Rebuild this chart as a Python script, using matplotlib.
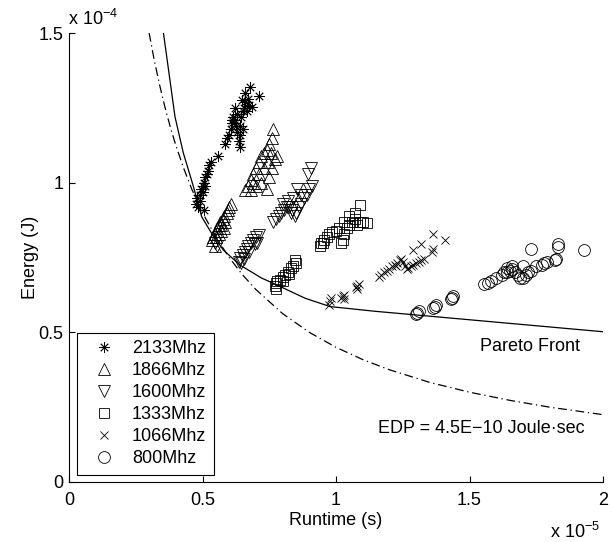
import matplotlib
matplotlib.use("Agg")
import matplotlib.pyplot as plt
from matplotlib.lines import Line2D

plt.rcParams['font.family'] = ['Liberation Sans', 'DejaVu Sans']
plt.rcParams['mathtext.default'] = 'regular'

# Runtime in units of 1e-5 s, energy in units of 1e-4 J
rt_2133 = [0.475, 0.48, 0.485, 0.49, 0.495, 0.50, 0.505, 0.51, 0.515, 0.52, 0.525, 0.53, 0.49, 0.50, 0.51,
           0.507, 0.557, 0.585, 0.59, 0.60, 0.605, 0.61, 0.615, 0.62, 0.625, 0.63, 0.635, 0.64, 0.64, 0.645,
           0.65, 0.655, 0.66, 0.665, 0.67, 0.675, 0.66, 0.678, 0.713, 0.62, 0.63, 0.65, 0.64, 0.609, 0.647, 0.684]
en_2133 = [0.93, 0.95, 0.92, 0.96, 0.98, 0.99, 1.0, 1.02, 1.03, 1.04, 1.06, 1.07, 0.94, 0.97, 0.99,
           0.91, 1.09, 1.13, 1.15, 1.16, 1.18, 1.20, 1.22, 1.21, 1.19, 1.17, 1.14, 1.16, 1.19, 1.22,
           1.24, 1.25, 1.27, 1.24, 1.28, 1.26, 1.30, 1.32, 1.29, 1.25, 1.23, 1.18, 1.12, 1.21, 1.276, 1.254]

rt_1866 = [0.535, 0.54, 0.545, 0.55, 0.555, 0.56, 0.565, 0.57, 0.575, 0.58, 0.585, 0.59, 0.595, 0.60, 0.605,
           0.56, 0.57, 0.55, 0.545, 0.58,
           0.66, 0.67, 0.68, 0.69, 0.70, 0.71, 0.72, 0.73, 0.74, 0.75, 0.76, 0.765, 0.68, 0.70, 0.72, 0.74,
           0.75, 0.76, 0.77, 0.78, 0.71, 0.73, 0.745, 0.69, 0.755]
en_1866 = [0.81, 0.82, 0.83, 0.84, 0.85, 0.86, 0.87, 0.86, 0.88, 0.89, 0.87, 0.90, 0.91, 0.92, 0.93,
           0.83, 0.84, 0.82, 0.79, 0.85,
           0.975, 0.99, 1.01, 1.03, 1.05, 1.07, 1.09, 1.10, 1.11, 1.13, 1.15, 1.18, 0.975, 0.99, 1.0, 0.98,
           1.02, 1.05, 1.08, 1.09, 1.03, 1.05, 1.07, 1.0, 1.10]

rt_1600 = [0.635, 0.64, 0.65, 0.66, 0.665, 0.67, 0.68, 0.69, 0.70, 0.71, 0.705, 0.695, 0.675, 0.655, 0.645,
           0.545, 0.555,
           0.765, 0.775, 0.785, 0.795, 0.805, 0.815, 0.825, 0.835, 0.845, 0.85, 0.86, 0.87, 0.88, 0.89, 0.90,
           0.91, 0.82, 0.84, 0.855, 0.87, 0.895, 0.905, 0.80, 0.83]
en_1600 = [0.735, 0.75, 0.76, 0.77, 0.78, 0.79, 0.80, 0.81, 0.82, 0.825, 0.80, 0.795, 0.77, 0.745, 0.73,
           0.80, 0.79,
           0.87, 0.88, 0.89, 0.90, 0.91, 0.92, 0.92, 0.91, 0.89, 0.90, 0.92, 0.93, 0.95, 0.96, 0.98,
           0.99, 0.94, 0.95, 0.98, 0.96, 1.03, 1.05, 0.93, 0.90]

rt_1333 = [0.77, 0.775, 0.78, 0.79, 0.80, 0.81, 0.82, 0.83, 0.84, 0.85, 0.775, 0.80, 0.825, 0.845,
           0.94, 0.95, 0.955, 0.965, 0.975, 0.985, 1.0, 1.02, 1.025, 1.03, 1.04, 1.05, 1.06, 1.07, 1.08,
           1.09, 1.10, 1.115, 1.03, 1.05, 1.07, 1.09, 1.01, 0.945]
en_1333 = [0.655, 0.665, 0.67, 0.675, 0.685, 0.69, 0.70, 0.715, 0.72, 0.73, 0.645, 0.67, 0.695, 0.74,
           0.79, 0.80, 0.81, 0.82, 0.83, 0.835, 0.84, 0.80, 0.81, 0.83, 0.85, 0.86, 0.87, 0.88, 0.86,
           0.87, 0.87, 0.865, 0.87, 0.89, 0.90, 0.925, 0.85, 0.80]

rt_1066 = [0.975, 0.978, 0.98, 1.02, 1.025, 1.03, 1.03, 1.075, 1.08, 1.085, 1.08,
           1.16, 1.17, 1.18, 1.19, 1.20, 1.21, 1.22, 1.23, 1.24, 1.25, 1.26, 1.265, 1.27, 1.28, 1.29, 1.30,
           1.31, 1.32, 1.33, 1.36, 1.365, 1.29, 1.32, 1.365, 1.41, 1.225, 1.245]
en_1066 = [0.59, 0.605, 0.615, 0.615, 0.62, 0.625, 0.61, 0.65, 0.655, 0.66, 0.645,
           0.685, 0.69, 0.70, 0.705, 0.71, 0.72, 0.725, 0.73, 0.74, 0.735, 0.72, 0.71, 0.715, 0.72, 0.725, 0.73,
           0.735, 0.74, 0.745, 0.77, 0.78, 0.775, 0.795, 0.83, 0.81, 0.72, 0.745]

rt_800 = [1.30, 1.305, 1.31, 1.365, 1.37, 1.375, 1.43, 1.435, 1.44,
          1.555, 1.57, 1.58, 1.60, 1.62, 1.63, 1.64, 1.65, 1.66, 1.67, 1.68, 1.69, 1.70, 1.71, 1.72, 1.73,
          1.75, 1.77, 1.78, 1.79, 1.82, 1.825, 1.83, 1.83, 1.73, 1.93, 1.66, 1.64, 1.70]
en_800 = [0.56, 0.565, 0.57, 0.58, 0.585, 0.59, 0.61, 0.615, 0.62,
          0.66, 0.665, 0.67, 0.68, 0.69, 0.70, 0.70, 0.705, 0.71, 0.70, 0.69, 0.68, 0.68, 0.69, 0.70, 0.705,
          0.72, 0.725, 0.73, 0.735, 0.74, 0.745, 0.785, 0.795, 0.78, 0.775, 0.72, 0.715, 0.72]

# Pareto front
pareto_rt = [0.353, 0.397, 0.428, 0.466, 0.497, 0.534, 0.578, 0.64, 0.722, 0.765, 0.884, 0.978, 1.15, 1.30, 1.60, 2.0]
pareto_en = [1.505, 1.22, 1.10, 0.987, 0.886, 0.831, 0.775, 0.725, 0.681, 0.664, 0.614, 0.586, 0.570, 0.558, 0.534, 0.502]

# Iso-EDP curve, EDP = 4.5E-10 J*s
edp_rt = [0.30, 0.32, 0.34, 0.36, 0.38, 0.40, 0.43, 0.46, 0.50, 0.55, 0.60, 0.65, 0.70, 0.80, 0.90, 1.00,
          1.10, 1.20, 1.35, 1.50, 1.65, 1.80, 2.00]
edp_en = [1.50, 1.406, 1.324, 1.25, 1.184, 1.125, 1.047, 0.978, 0.90, 0.818, 0.75, 0.692, 0.643, 0.5625, 0.50, 0.45,
          0.409, 0.375, 0.333, 0.30, 0.273, 0.25, 0.225]

labels = ['2133Mhz', '1866Mhz', '1600Mhz', '1333Mhz', '1066Mhz', '800Mhz']
xticks = [0, 0.5, 1, 1.5, 2]
xticklabels = ['0', '0.5', '1', '1.5', '2']
yticks = [0, 0.5, 1, 1.5]
yticklabels = ['0', '0.5', '1', '1.5']

FS = 13
fig = plt.figure(figsize=(6.13, 5.42), dpi=100)
ax = fig.add_axes([69/613, 60/542, 534/613, 449/542])

series = [
    (rt_2133, en_2133, dict(marker=(8, 2, 0), ms=7.5)),
    (rt_1866, en_1866, dict(marker='^', ms=8.5)),
    (rt_1600, en_1600, dict(marker='v', ms=8.5)),
    (rt_1333, en_1333, dict(marker='s', ms=7.2)),
    (rt_1066, en_1066, dict(marker='x', ms=6.0)),
    (rt_800, en_800, dict(marker='o', ms=8.5)),
]
handles = []
for (x, y, st), lab in zip(series, labels):
    ax.plot(x, y, linestyle='none', mfc='none', mec='black', mew=0.6, color='black', **st)
    handles.append(Line2D([], [], linestyle='none', mfc='none', mec='black', mew=0.6,
                          marker=st['marker'], ms=st['ms'], label=lab))

ax.plot(pareto_rt, pareto_en, color='black', lw=0.9)
ax.plot(edp_rt, edp_en, color='black', lw=0.9, linestyle='-.', dashes=(7, 3, 1, 3))

ax.set_xlim(0, 2)
ax.set_ylim(0, 1.5)
ax.set_xticks(xticks)
ax.set_xticklabels(xticklabels)
ax.set_yticks(yticks)
ax.set_yticklabels(yticklabels)
for s in ['top', 'right']:
    ax.spines[s].set_visible(False)
for s in ['left', 'bottom']:
    ax.spines[s].set_linewidth(0.8)
ax.tick_params(direction='in', length=4, width=0.8, labelsize=FS)
ax.tick_params(axis='x', pad=7)
ax.tick_params(axis='y', pad=4)

ax.text(-0.073, 0.5, 'Energy (J)', transform=ax.transAxes, rotation=90, ha='center', va='center', fontsize=FS)
ax.text(0.5, -0.0958, 'Runtime (s)', transform=ax.transAxes, ha='center', va='baseline', fontsize=FS)
ax.text(0.994, -0.125, r'x 10$^{-5}$', transform=ax.transAxes, ha='right', va='baseline', fontsize=FS)
ax.text(-0.002, 1.018, r'x 10$^{-4}$', transform=ax.transAxes, ha='left', va='baseline', fontsize=FS)

ax.text(1.914, 0.436, 'Pareto Front', ha='right', va='baseline', fontsize=FS)
ax.text(1.933, 0.164, 'EDP = 4.5E\u221210 Joule\u00b7sec', ha='right', va='baseline', fontsize=FS)

leg = ax.legend(handles=handles, loc='lower left', bbox_to_anchor=(0.015, 0.0156), borderaxespad=0,
                fontsize=FS, frameon=True, fancybox=False, edgecolor='black', framealpha=1,
                handlelength=2.15, handletextpad=0.48, labelspacing=0.28, borderpad=0.42, numpoints=1)
leg.get_frame().set_linewidth(0.8)

fig.savefig('out.png', dpi=100)
